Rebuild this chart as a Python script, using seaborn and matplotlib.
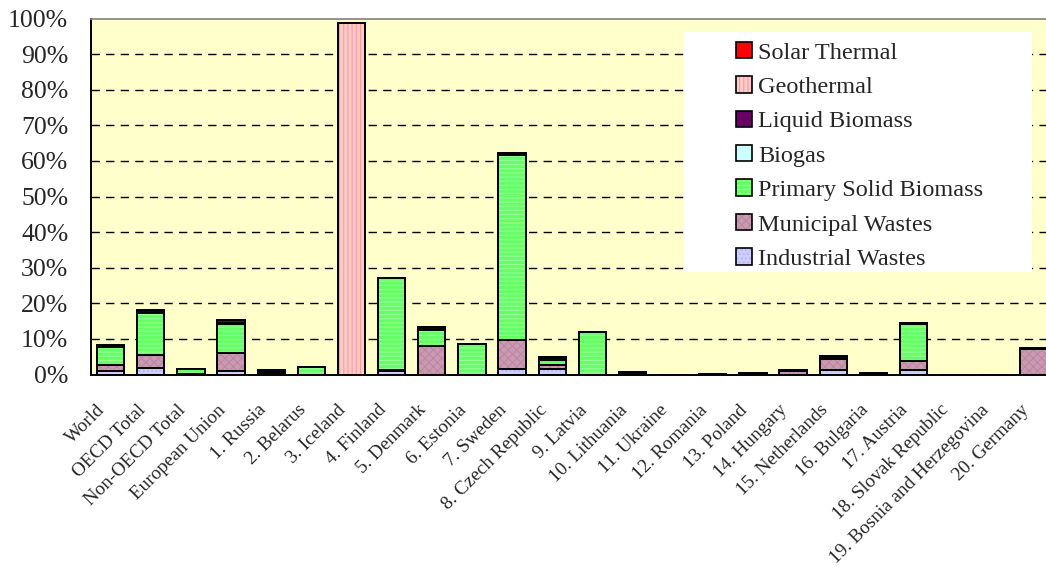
import numpy as np
import pandas as pd
import matplotlib
matplotlib.use("Agg")
import matplotlib.pyplot as plt
import matplotlib.colors as mcolors
import matplotlib.transforms as mtransforms
from matplotlib.patches import Patch, Rectangle
from matplotlib.ticker import FuncFormatter, FixedLocator
import seaborn as sns

categories = ["World", "OECD Total", "Non-OECD Total", "European Union", "1. Russia",
              "2. Belarus", "3. Iceland", "4. Finland", "5. Denmark", "6. Estonia",
              "7. Sweden", "8. Czech Republic", "9. Latvia", "10. Lithuania", "11. Ukraine",
              "12. Romania", "13. Poland", "14. Hungary", "15. Netherlands", "16. Bulgaria",
              "17. Austria", "18. Slovak Republic", "19. Bosnia and Herzegovina", "20. Germany"]

industrial = [1.1, 1.9, 0.1, 0.9, 0.5, 0.0, 0.0, 1.1, 0.0, 0.0, 1.6, 1.6,
              0.0, 0.0, 0.0, 0.0, 0.0, 0.0, 1.4, 0.0, 1.4, 0.0, 0.0, 0.0]
municipal = [1.5, 3.7, 0.1, 5.2, 0.3, 0.0, 0.0, 0.3, 8.0, 0.0, 8.0, 1.0,
             0.0, 0.0, 0.0, 0.1, 0.1, 1.0, 3.0, 0.0, 2.5, 0.0, 0.0, 7.2]
primary_solid = [5.2, 11.8, 1.3, 8.0, 0.4, 2.0, 0.0, 25.6, 4.4, 8.5, 52.1, 1.5,
                 12.0, 0.5, 0.0, 0.1, 0.1, 0.1, 0.0, 0.2, 10.2, 0.0, 0.0, 0.0]
biogas = [0.2, 0.3, 0.0, 0.4, 0.0, 0.0, 0.0, 0.1, 0.6, 0.0, 0.1, 0.5,
          0.0, 0.0, 0.0, 0.0, 0.1, 0.1, 0.5, 0.0, 0.1, 0.0, 0.0, 0.1]
liquid_biomass = [0.3, 0.4, 0.1, 0.8, 0.2, 0.0, 0.0, 0.1, 0.3, 0.2, 0.4, 0.3,
                  0.0, 0.2, 0.0, 0.0, 0.0, 0.1, 0.3, 0.1, 0.3, 0.0, 0.0, 0.1]
geothermal = [0.0, 0.0, 0.0, 0.0, 0.0, 0.0, 98.8, 0.0, 0.0, 0.0, 0.0, 0.0,
              0.0, 0.0, 0.0, 0.0, 0.0, 0.0, 0.0, 0.0, 0.0, 0.0, 0.0, 0.0]
solar_thermal = [0.0] * 24

series_names = ["Industrial Wastes", "Municipal Wastes", "Primary Solid Biomass",
                "Biogas", "Liquid Biomass", "Geothermal", "Solar Thermal"]
series_values = [industrial, municipal, primary_solid, biogas, liquid_biomass,
                 geothermal, solar_thermal]

styles = {
    "Industrial Wastes": ("#CCCCFF", "....", "#B8B8F0"),
    "Municipal Wastes": ("#CC99B3", "xxxx", "#B88AA0"),
    "Primary Solid Biomass": ("#66FF66", "----", "#99FF99"),
    "Biogas": ("#CCFFFF", None, None),
    "Liquid Biomass": ("#660066", None, None),
    "Geothermal": ("#FFCCCC", "||||", "#FF9999"),
    "Solar Thermal": ("#FF0000", None, None),
}

sns.set_style("white")
plt.rcParams["font.family"] = ["Liberation Serif", "DejaVu Serif"]
plt.rcParams["hatch.linewidth"] = 0.8

W, H = 1046, 566
fig = plt.figure(figsize=(W / 100, H / 100), dpi=100)
ax_left, ax_right, ax_top, ax_bottom = 90.5, 1054.1, 18.5, 374.5
ax = fig.add_axes([ax_left / W, 1 - ax_bottom / H, (ax_right - ax_left) / W, (ax_bottom - ax_top) / H])
ax.set_facecolor("#FFFFCC")


def apply_hatch(p, hatch, hcolor):
    if hatch is None:
        return
    p.set_hatch(hatch)
    if hasattr(p, "set_hatchcolor"):
        p.set_hatchcolor(hcolor)
    else:
        p._hatch_color = mcolors.to_rgba(hcolor)


df = pd.DataFrame({n: v for n, v in zip(series_names, series_values)}, index=categories)
cum = df.cumsum(axis=1)

# overlay cumulative bars from top series down
for name in reversed(series_names):
    face, hatch, hcol = styles[name]
    n_before = len(ax.patches)
    sns.barplot(x=categories, y=cum[name].values, order=categories, color=face,
                saturation=1, width=0.68, edgecolor="black", linewidth=1.4, ax=ax)
    for p in ax.patches[n_before:]:
        apply_hatch(p, hatch, hcol)

ax.set_ylim(0, 100)
ax.set_xlim(-0.5, len(categories) - 0.5)
ax.yaxis.set_major_locator(FixedLocator(np.arange(0, 101, 10)))
ax.yaxis.set_major_formatter(FuncFormatter(lambda v, _: f"{int(v)}%"))
ax.set_axisbelow(True)
for yv in range(10, 100, 10):
    ax.axhline(yv, color="black", lw=1.0, linestyle=(0, (6, 4.5)), zorder=0.5)

# category labels, rotated, drawn as texts below the axis
ax.set_xticks(range(len(categories)))
ax.set_xticklabels([])
lab_trans = mtransforms.blended_transform_factory(ax.transData, ax.transAxes) + \
    mtransforms.ScaledTranslation(-14 / 100, -27 / 100, fig.dpi_scale_trans)
for i, c in enumerate(categories):
    ax.text(i, 0, c, transform=lab_trans, rotation=45, ha="right", va="top",
            rotation_mode="anchor", fontsize=13.8, clip_on=False)

ax.set_xticks(np.arange(-0.5, len(categories), 1), minor=True)
ax.tick_params(axis="x", which="major", length=0)
ax.tick_params(axis="x", which="minor", length=4.5, width=1.2, color="black", direction="out")
ax.tick_params(axis="y", which="major", length=6, width=1.2, color="black", direction="out",
               labelsize=18.5, pad=10)
ax.tick_params(axis="y", which="minor", length=0)
ax.set_xlabel("")
ax.set_ylabel("")
ax.spines["right"].set_visible(False)
ax.spines["top"].set_color("#808080")
ax.spines["top"].set_linewidth(1.2)
for s in ["left", "bottom"]:
    ax.spines[s].set_color("black")
    ax.spines[s].set_linewidth(1.4)

# legend background box
ax.add_patch(Rectangle((684 / W, 1 - 272 / H), 348 / W, 240 / H, transform=fig.transFigure,
                       facecolor="white", edgecolor="none", zorder=4, clip_on=False))

handles = []
for name in reversed(series_names):
    face, hatch, hcol = styles[name]
    h = Patch(facecolor=face, edgecolor="black", linewidth=1.2, label=name)
    apply_hatch(h, hatch, hcol)
    handles.append(h)

leg = ax.legend(handles=handles, loc="upper left",
                bbox_to_anchor=(735.7 / W, 1 - 42 / H), bbox_transform=fig.transFigure,
                frameon=False, fontsize=17.5, handlelength=0.66, handleheight=0.66,
                handletextpad=0.27, labelspacing=0.52, borderpad=0, borderaxespad=0)
leg.set_zorder(5)

fig.savefig("out.png", dpi=100)
